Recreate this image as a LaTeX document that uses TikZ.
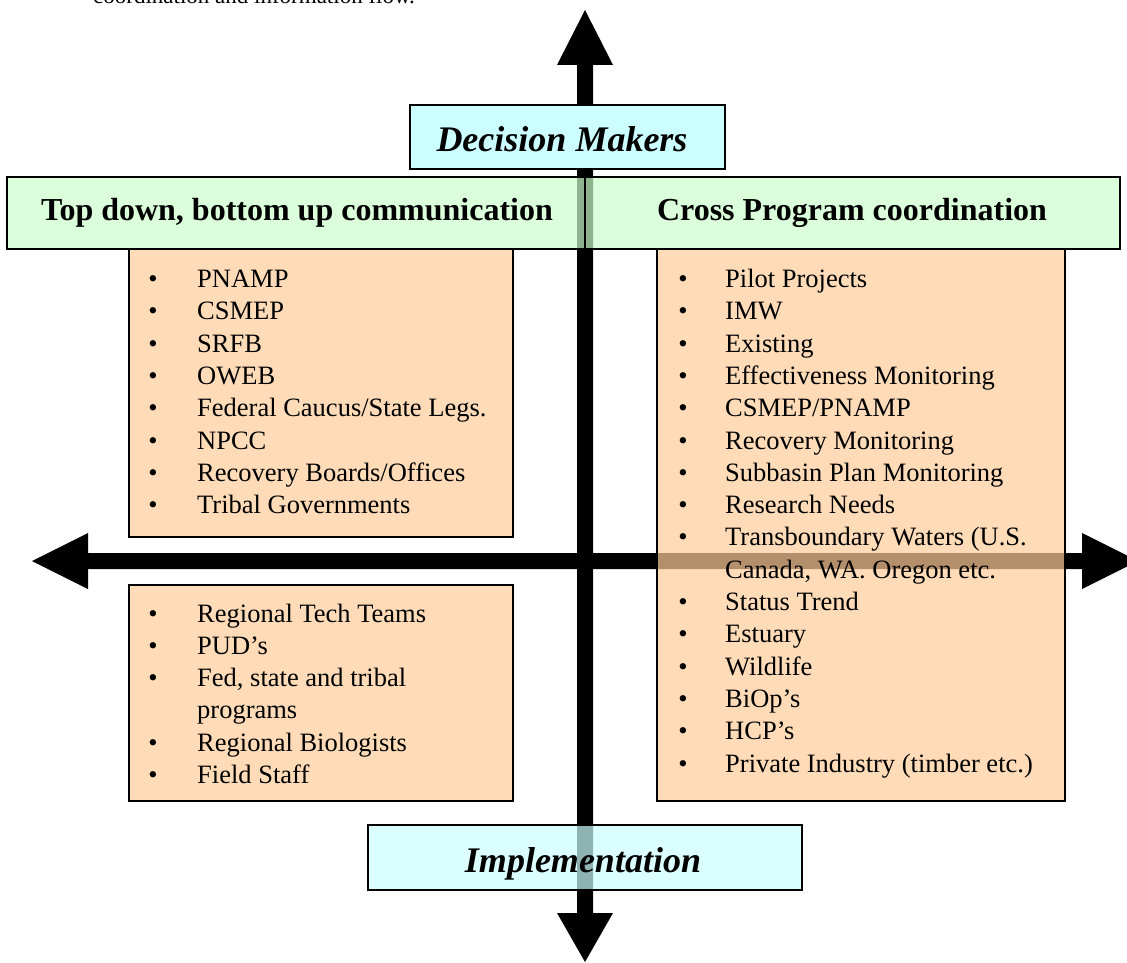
\documentclass[tikz,border=0pt]{standalone}
\usepackage{fontspec}
\setmainfont{Liberation Serif}
\definecolor{dcyan}{RGB}{204,255,255}
\definecolor{hgreen}{RGB}{204,255,204}
\definecolor{peach}{RGB}{255,204,153}
\begin{document}
\begin{tikzpicture}[x=1pt,y=-1pt,
  panel/.style={draw=black, line width=1.4pt, fill opacity=0.7, draw opacity=1, text opacity=1, anchor=north west, inner sep=0pt, outer sep=0pt},
  listbox/.style={panel, fill=peach},
  hdrbox/.style={panel, fill=hgreen, line width=1.6pt},
  cybox/.style={panel, fill=dcyan, line width=1.6pt},
  hdrtext/.style={anchor=base, inner sep=0pt, font=\fontsize{32}{37}\selectfont\bfseries},
  bigtext/.style={anchor=base, inner sep=0pt, font=\fontsize{36}{42}\selectfont\bfseries\itshape},
  bul/.style={anchor=base, inner sep=0pt, font=\fontsize{26.5}{32}\selectfont},
  itm/.style={anchor=base west, inner sep=0pt, font=\fontsize{26.5}{32}\selectfont}
]
\useasboundingbox (0,0) rectangle (1127,963);
\clip (0,0) rectangle (1127,963);

% leftover caption line at the top
\node[anchor=base west, inner sep=0pt, font=\fontsize{23}{28}\selectfont] (intro) at (93,3.5) {coordination and information flow.};

% arrow tips
\coordinate (upTip) at (585,10);
\coordinate (downTip) at (585,962);
\coordinate (leftTip) at (32,561);
\coordinate (rightTip) at (1138,561);

% the cross of arrows
\fill[black] (577,65) -- (557,65) -- (upTip) -- (613,65) -- (593,65) -- (593,913) -- (613,913) -- (downTip) -- (557,913) -- (577,913) -- cycle;
\fill[black] (88,553) -- (88,533) -- (leftTip) -- (88,589) -- (88,569) -- (1082,569) -- (1082,589) -- (rightTip) -- (1082,533) -- (1082,553) -- cycle;

% list boxes
\node[listbox, minimum width=384pt, minimum height=288pt] (tl) at (129,249) {};
\node[listbox, minimum width=384pt, minimum height=216pt] (bl) at (129,585) {};
\node[listbox, minimum width=408pt, minimum height=552pt] (rb) at (657,249) {};

% header boxes
\node[hdrbox, minimum width=578pt, minimum height=72pt] (hl) at (7,177) {};
\node[hdrbox, minimum width=535pt, minimum height=72pt] (hr) at (585,177) {};
\node[hdrtext] (hlt) at (297,220) {Top down, bottom up communication};
\node[hdrtext] (hrt) at (852,220) {Cross Program coordination};

% decision makers (opaque) and implementation (translucent)
\node[panel, fill=dcyan, fill opacity=1, line width=1.6pt, minimum width=315pt, minimum height=64pt] (dm) at (410,105) {};
\node[bigtext] (dmt) at (562,152) {Decision Makers};
\node[cybox, minimum width=434pt, minimum height=65pt] (im) at (368,825) {};
\node[bigtext] (imt) at (583,872) {Implementation};

% top-left list
\foreach \i/\t in {0/PNAMP,1/CSMEP,2/SRFB,3/OWEB,4/{Federal Caucus/State Legs.},5/NPCC,6/{Recovery Boards/Offices},7/{Tribal Governments}}{
  \node[bul] (tlb\i) at (153,287.5+32.3*\i) {\textbullet};
  \node[itm] (tlt\i) at (197,287.5+32.3*\i) {\t};
}

% bottom-left list
\foreach \i/\t in {0/{Regional Tech Teams},1/{PUD’s},2/{Fed, state and tribal},3/{programs},4/{Regional Biologists},5/{Field Staff}}{
  \node[itm] (blt\i) at (197,622+32.3*\i) {\t};
}
\foreach \i in {0,1,2,4,5}{
  \node[bul] (blb\i) at (153,622+32.3*\i) {\textbullet};
}

% right list
\foreach \i/\t in {0/{Pilot Projects},1/{IMW},2/{Existing},3/{Effectiveness Monitoring},4/{CSMEP/PNAMP},5/{Recovery Monitoring},6/{Subbasin Plan Monitoring},7/{Research Needs},8/{Transboundary Waters (U.S.},9/{Canada, WA. Oregon etc.},10/{Status Trend},11/{Estuary},12/{Wildlife},13/{BiOp’s},14/{HCP’s},15/{Private Industry (timber etc.)}}{
  \node[itm] (rt\i) at (725,287.5+32.3*\i) {\t};
}
\foreach \i in {0,1,2,3,4,5,6,7,8,10,11,12,13,14,15}{
  \node[bul] (rbl\i) at (683,287.5+32.3*\i) {\textbullet};
}
\end{tikzpicture}
\end{document}
